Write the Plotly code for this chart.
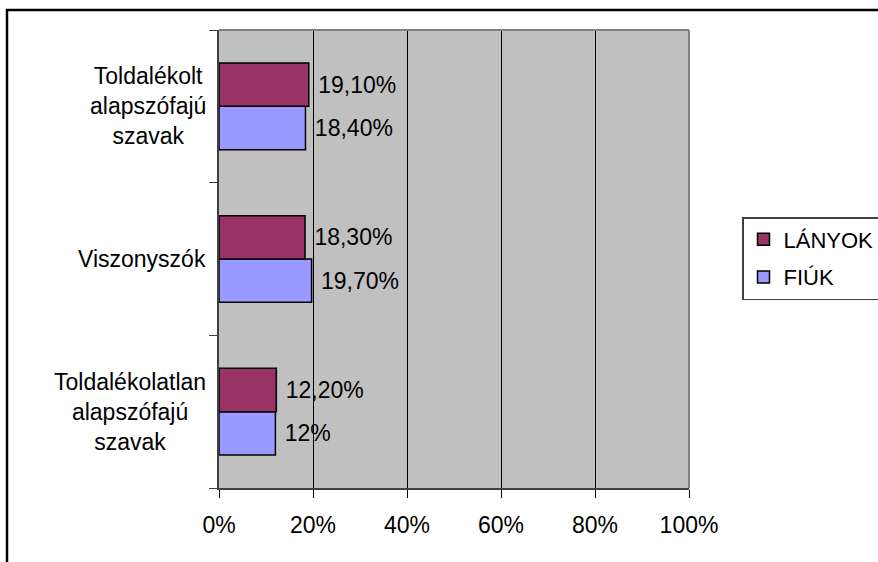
import plotly.graph_objects as go

categories = ["Toldalékolatlan alapszófajú szavak", "Viszonyszók", "Toldalékolt alapszófajú szavak"]
category_lines = ["Toldalékolatlan<br>alapszófajú<br>szavak", "Viszonyszók", "Toldalékolt<br>alapszófajú<br>szavak"]
lanyok = [0.122, 0.183, 0.191]
fiuk = [0.12, 0.197, 0.184]
lanyok_text = ["12,20%", "18,30%", "19,10%"]
fiuk_text = ["12%", "19,70%", "18,40%"]
x_ticks = [0, 0.2, 0.4, 0.6, 0.8, 1.0]
x_ticklabels = ["0%", "20%", "40%", "60%", "80%", "100%"]

W, H = 878, 562
L, R, T, B = 219, 689, 30, 488
pw, ph = R - L, B - T

def px_x(p):
    return (p - L) / pw

def px_y(p):
    return (B - p) / ph

FONT = "Liberation Sans, Arial, sans-serif"
FS = 23

fig = go.Figure()
fig.add_trace(go.Bar(
    y=categories, x=fiuk, orientation="h", name="FIÚK",
    marker=dict(color="#9999FF", line=dict(color="black", width=1.5)),
    text=fiuk_text, texttemplate=" %{text}", textposition="outside",
    textfont=dict(size=FS, color="black", family=FONT), cliponaxis=False,
    legendrank=2, legendgroup="b",
))
fig.add_trace(go.Bar(
    y=categories, x=lanyok, orientation="h", name="LÁNYOK",
    marker=dict(color="#993366", line=dict(color="black", width=1.5)),
    text=lanyok_text, texttemplate=" %{text}", textposition="outside",
    textfont=dict(size=FS, color="black", family=FONT), cliponaxis=False,
    legendrank=1, legendgroup="a",
))

for cat, lab in zip(categories, category_lines):
    fig.add_annotation(x=px_x(208), xref="paper", y=cat, yref="y",
                       text=lab, showarrow=False, xanchor="right", align="center",
                       font=dict(size=FS, color="black", family=FONT))

shapes = [
    # outer chart border
    dict(type="rect", xref="paper", yref="paper", x0=px_x(7), x1=px_x(900),
         y0=px_y(600), y1=px_y(10), line=dict(color="black", width=2.5), layer="below"),
    # plot area top and right border
    dict(type="line", xref="paper", yref="paper", x0=0, x1=1, y0=1, y1=1,
         line=dict(color="#808080", width=2), layer="above"),
    dict(type="line", xref="paper", yref="paper", x0=1, x1=1, y0=0, y1=1,
         line=dict(color="#808080", width=2), layer="above"),
]

fig.update_layout(
    width=W, height=H,
    margin=dict(l=L, r=W - R, t=T, b=H - B, pad=0, autoexpand=False),
    paper_bgcolor="white", plot_bgcolor="#C0C0C0",
    barmode="group", bargap=0.432, bargroupgap=0,
    font=dict(family=FONT, size=FS, color="black"),
    shapes=shapes,
    legend=dict(x=px_x(742), y=px_y(217), xanchor="left", yanchor="top",
                bordercolor="#404040", borderwidth=1.5, bgcolor="white",
                font=dict(size=22, family=FONT), tracegroupgap=6, itemwidth=30),
    xaxis=dict(range=[0, 1], tickvals=x_ticks, ticktext=x_ticklabels,
               showgrid=True, gridcolor="black", gridwidth=1,
               showline=True, linecolor="#404040", linewidth=2,
               ticks="outside", ticklen=8, tickcolor="black", tickwidth=1,
               ticklabelstandoff=7, zeroline=False, fixedrange=True),
    yaxis=dict(showticklabels=False, tickson="boundaries",
               ticks="outside", ticklen=8, tickcolor="#404040", tickwidth=1,
               showline=True, linecolor="#404040", linewidth=2,
               showgrid=False, zeroline=False, fixedrange=True,
               categoryorder="array", categoryarray=categories),
)

fig.write_html("out.html", config={"displayModeBar": False},
               post_script="document.body.style.margin='0';document.body.style.overflow='hidden';")
